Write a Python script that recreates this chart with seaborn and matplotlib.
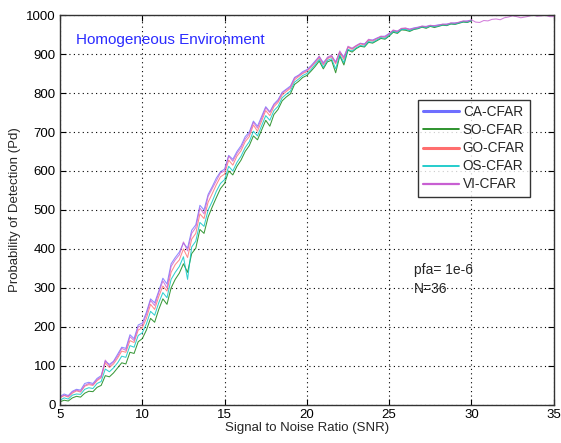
import numpy as np
import pandas as pd
import seaborn as sns
import matplotlib
matplotlib.use("Agg")
import matplotlib.pyplot as plt

# SNR grid (dB): detectors sampled every 0.25 dB
snr = np.linspace(5, 30, 101)
snr_vi = np.linspace(5, 35, 121)

ca_cfar = [22, 28, 24, 35, 40, 38, 55, 58, 55, 68, 75, 112, 104, 112, 130, 148, 145, 180, 170, 205,
           210, 238, 272, 262, 292, 325, 310, 362, 378, 392, 415, 402, 448, 462, 512, 500, 540, 560, 582, 598,
           605, 640, 630, 650, 665, 688, 700, 728, 715, 740, 765, 752, 772, 783, 802, 810, 818, 840, 846, 855,
           860, 870, 882, 893, 878, 890, 895, 880, 905, 893, 918, 914, 921, 927, 926, 936, 936, 941, 945, 946,
           953, 960, 959, 965, 966, 964, 967, 969, 971, 971, 973, 973, 975, 976, 977, 979, 980, 981, 984, 985,
           987]

so_cfar = [8, 12, 10, 18, 22, 20, 30, 35, 34, 45, 50, 75, 72, 82, 95, 108, 105, 135, 132, 162,
           170, 192, 222, 212, 245, 272, 258, 300, 322, 338, 362, 340, 388, 402, 450, 440, 482, 508, 532, 555,
           568, 600, 590, 612, 628, 650, 665, 690, 680, 705, 730, 715, 745, 758, 780, 790, 798, 822, 830, 840,
           845, 856, 868, 882, 862, 880, 884, 852, 895, 872, 910, 905, 914, 920, 918, 930, 928, 934, 940, 938,
           946, 956, 953, 962, 961, 958, 963, 965, 969, 966, 971, 968, 971, 974, 973, 977, 976, 979, 982, 981,
           985]

go_cfar = [18, 24, 20, 30, 36, 33, 48, 52, 50, 62, 70, 108, 96, 105, 120, 138, 135, 165, 160, 192,
           198, 222, 258, 245, 278, 305, 292, 340, 360, 372, 400, 378, 425, 440, 490, 478, 520, 542, 565, 585,
           592, 628, 615, 638, 652, 675, 688, 718, 702, 728, 755, 742, 765, 776, 795, 804, 812, 834, 842, 850,
           855, 866, 878, 890, 872, 888, 893, 875, 904, 886, 917, 912, 920, 926, 923, 936, 933, 939, 944, 943,
           951, 960, 957, 965, 965, 962, 965, 967, 971, 969, 973, 971, 973, 976, 975, 979, 978, 981, 984, 983,
           987]

os_cfar = [12, 18, 15, 25, 28, 27, 40, 44, 42, 55, 60, 92, 85, 95, 108, 125, 122, 152, 148, 178,
           185, 208, 240, 230, 262, 288, 275, 322, 340, 355, 380, 322, 405, 420, 468, 458, 500, 522, 548, 568,
           578, 612, 600, 622, 638, 660, 675, 702, 690, 716, 742, 730, 755, 766, 788, 797, 805, 828, 836, 845,
           850, 860, 873, 886, 866, 884, 888, 862, 898, 878, 912, 908, 916, 922, 920, 932, 930, 936, 942, 940,
           948, 958, 955, 963, 963, 960, 964, 966, 970, 968, 972, 970, 972, 975, 974, 978, 977, 980, 983, 982,
           986]

vi_cfar = [20, 25, 22, 33, 38, 35, 50, 55, 52, 65, 72, 115, 100, 110, 125, 145, 140, 175, 165, 200,
           205, 232, 268, 255, 288, 318, 300, 355, 372, 385, 418, 395, 440, 455, 505, 490, 535, 555, 575, 595,
           600, 638, 625, 645, 660, 682, 695, 725, 710, 735, 762, 750, 770, 780, 800, 808, 815, 838, 845, 852,
           858, 868, 880, 895, 875, 892, 897, 878, 908, 890, 920, 915, 922, 928, 925, 938, 935, 940, 946, 944,
           952, 962, 958, 966, 967, 963, 966, 968, 972, 970, 974, 972, 974, 977, 976, 980, 979, 982, 985, 984,
           988, 982, 981, 986, 985, 989, 990, 988, 993, 995, 998, 996, 993, 995, 997, 1000, 997, 998, 999, 996,
           996]

detectors = ["CA-CFAR", "SO-CFAR", "GO-CFAR", "OS-CFAR", "VI-CFAR"]
colors = ["#6f6fff", "#0a800a", "#ff6e6e", "#00c4c4", "#c85fd2"]
legend_widths = [2.2, 1.2, 2.2, 1.2, 1.6]

frames = []
for name, xs, ys in zip(detectors,
                        [snr, snr, snr, snr, snr_vi],
                        [ca_cfar, so_cfar, go_cfar, os_cfar, vi_cfar]):
    frames.append(pd.DataFrame({"SNR": xs, "Pd": ys, "Detector": name}))
data = pd.concat(frames, ignore_index=True)

sns.set_style("white")
plt.rcParams["font.family"] = ["Liberation Sans", "DejaVu Sans"]

fig = plt.figure(figsize=(5.61, 4.43), dpi=100)
ax = fig.add_axes([0.107, 0.086, 0.880, 0.880])

sns.lineplot(data=data, x="SNR", y="Pd", hue="Detector", hue_order=detectors,
             palette=dict(zip(detectors, colors)), linewidth=0.75, alpha=0.8,
             estimator=None, sort=False, legend=False, ax=ax)

ax.set_xlim(5, 35)
ax.set_ylim(0, 1000)
ax.set_xticks(np.arange(5, 36, 5))
ax.set_yticks(np.arange(0, 1001, 100))
ax.grid(True, linestyle=(0, (1, 3)), color="black", linewidth=0.8)
ax.tick_params(direction="in", length=4, labelsize=9.5, top=True, right=True,
               bottom=True, left=True, colors="black", pad=3)
for sp in ax.spines.values():
    sp.set_color("#333333")
    sp.set_linewidth(1.0)

ax.set_xlabel("Signal to Noise Ratio (SNR)", fontsize=9.5, labelpad=1)
ax.set_ylabel("Probability of Detection (Pd)", fontsize=9.5, labelpad=4)

ax.text(6.0, 935, "Homogeneous Environment", color="#2a2aff", fontsize=11, va="center")
ax.text(26.5, 345, "pfa= 1e-6", fontsize=10, va="center")
ax.text(26.5, 298, "N=36", fontsize=10, va="center")

handles = [plt.Line2D([], [], color=c, lw=w) for c, w in zip(colors, legend_widths)]
leg = ax.legend(handles, detectors, loc="upper left", bbox_to_anchor=(0.725, 0.783),
                fontsize=9.8, frameon=True, fancybox=False, handlelength=2.6,
                handletextpad=0.3, labelspacing=0.3, borderpad=0.4, borderaxespad=0)
leg.get_frame().set_edgecolor("black")
leg.get_frame().set_linewidth(1.0)

fig.savefig("out.png", dpi=100, facecolor="white")
